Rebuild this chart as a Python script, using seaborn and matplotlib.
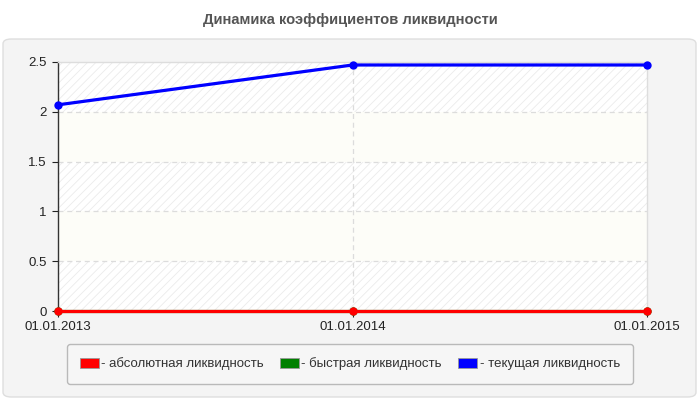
import matplotlib
matplotlib.use("Agg")
import matplotlib.pyplot as plt
import seaborn as sns
import pandas as pd
from matplotlib.patches import FancyBboxPatch, Patch

dates = ["01.01.2013", "01.01.2014", "01.01.2015"]
absolute = [0.0, 0.0, 0.0]
quick = [0.0, 0.0, 0.0]
current = [2.07, 2.47, 2.47]
series_names = ["абсолютная ликвидность", "быстрая ликвидность", "текущая ликвидность"]
series_colors = ["#ff0000", "#008000", "#0000ff"]
y_ticks = [0, 0.5, 1, 1.5, 2, 2.5]
y_labels = ["0", "0.5", "1", "1.5", "2", "2.5"]

sns.set_style("white")
plt.rcParams["font.family"] = ["Liberation Sans", "DejaVu Sans"]
plt.rcParams["hatch.linewidth"] = 0.6

fig = plt.figure(figsize=(7, 4), dpi=100)
fig.patch.set_facecolor("white")

# outer panel
panel = FancyBboxPatch((3 / 700, 3 / 400), 693 / 700, 358 / 400,
                       boxstyle="round,pad=0,rounding_size=0.012",
                       transform=fig.transFigure, facecolor="#f4f4f4",
                       edgecolor="#dedede", linewidth=1, zorder=-5)
fig.patches.append(panel)

fig.text(0.5, 1 - 20 / 400, "Динамика коэффициентов ликвидности", ha="center", va="center",
         fontsize=10.6, fontweight="bold", color="#555555")

ax = fig.add_axes([58 / 700, 1 - 311 / 400, 589 / 700, 249 / 400])
ax.set_facecolor("#fdfdf8")

# alternating bands
for i in range(len(y_ticks) - 1):
    if i % 2 == 0:
        ax.axhspan(y_ticks[i], y_ticks[i + 1], facecolor="white", edgecolor="#ebebeb",
                   hatch="////", linewidth=0, zorder=0)

idx = list(range(len(dates)))
df = pd.DataFrame({
    "x": idx * 3,
    "value": quick + absolute + current,
    "series": [series_names[1]] * 3 + [series_names[0]] * 3 + [series_names[2]] * 3,
})
palette = dict(zip(series_names, series_colors))
sns.lineplot(data=df, x="x", y="value", hue="series", palette=palette, marker="o",
             markersize=6, markeredgewidth=0, linewidth=2.3, ax=ax, legend=False,
             zorder=5)
for ln in ax.lines:
    ln.set_clip_on(False)

ax.set_xlim(0, 2)
ax.set_ylim(0, 2.5)
ax.set_yticks(y_ticks)
ax.set_yticklabels(y_labels)
ax.set_xticks(idx)
ax.set_xticklabels(dates)
ax.set_xlabel("")
ax.set_ylabel("")
ax.tick_params(axis="both", labelsize=9.5, colors="#222222", length=4, width=0.8,
               direction="out", left=True, bottom=True)
ax.tick_params(axis="x", pad=3.5)
ax.tick_params(axis="y", pad=4)

for y in y_ticks[1:-1]:
    ax.axhline(y, color="#dcdcdc", linestyle=(0, (4, 3)), linewidth=0.9, zorder=1)
ax.axvline(1, color="#dcdcdc", linestyle=(0, (4, 3)), linewidth=0.9, zorder=1)

for s in ["top", "right"]:
    ax.spines[s].set_color("#dddddd")
    ax.spines[s].set_linewidth(1)
ax.spines["left"].set_color("#333333")
ax.spines["left"].set_linewidth(1)
ax.spines["bottom"].set_color("#333333")

handles = [Patch(facecolor=c, edgecolor="#999999", linewidth=0.6) for c in series_colors]
labels = ["- " + n for n in series_names]
leg = fig.legend(handles, labels, ncol=3, loc="center",
                 bbox_to_anchor=(350 / 700, 1 - 364 / 400),
                 frameon=True, fancybox=True, fontsize=9.5,
                 handlelength=1.4, handleheight=0.8, handletextpad=0.2,
                 borderpad=1.0, borderaxespad=0, columnspacing=1.25)
leg.get_frame().set_facecolor("#f7f7f7")
leg.get_frame().set_edgecolor("#aaaaaa")
leg.get_frame().set_linewidth(1)
for t in leg.get_texts():
    t.set_color("#333333")

fig.savefig("out.png", dpi=100, facecolor=fig.get_facecolor())
